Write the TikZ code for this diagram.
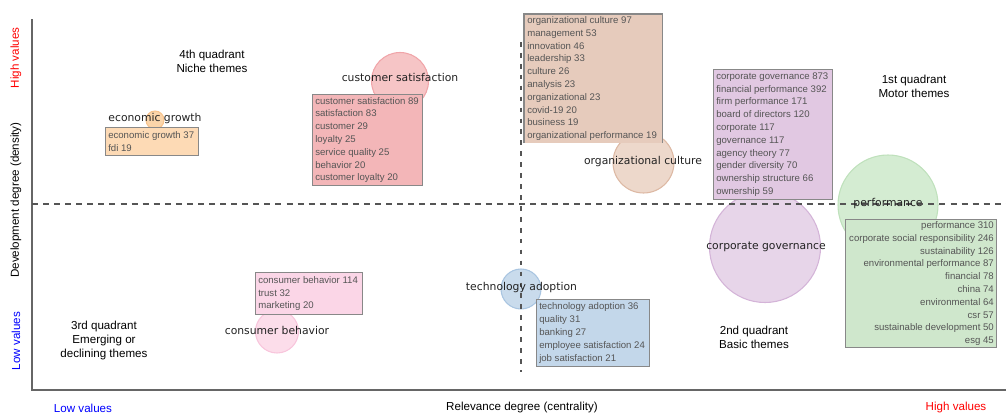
\documentclass[tikz,border=0pt]{standalone}
\usepackage{fontspec}
\setmainfont{Liberation Sans}
\newfontfamily\dvfont{DejaVu Sans}
\definecolor{axisgray}{HTML}{666666}
\definecolor{dashgray}{HTML}{555555}
\definecolor{boxline}{HTML}{888888}
\definecolor{boxtext}{HTML}{555555}
\definecolor{lblcol}{HTML}{222222}
\definecolor{ecoBox}{HTML}{FDDAB5}\definecolor{ecoC}{HTML}{FBD5AA}\definecolor{ecoB}{HTML}{F8C48E}
\definecolor{cusBox}{HTML}{F3B6B8}\definecolor{cusC}{HTML}{F6C5C6}\definecolor{cusB}{HTML}{F0A5A9}
\definecolor{orgBox}{HTML}{E6CBBC}\definecolor{orgC}{HTML}{EDD8CB}\definecolor{orgB}{HTML}{DDB9A4}
\definecolor{corBox}{HTML}{E1C8E2}\definecolor{corC}{HTML}{E7D5E9}\definecolor{corB}{HTML}{D4B4D8}
\definecolor{perBox}{HTML}{CFE7CC}\definecolor{perC}{HTML}{D4ECD2}\definecolor{perB}{HTML}{BFE1BC}
\definecolor{conBox}{HTML}{FBD6E7}\definecolor{conC}{HTML}{FCDDEA}\definecolor{conB}{HTML}{F8C5DC}
\definecolor{tecBox}{HTML}{C3D7EA}\definecolor{tecC}{HTML}{C9DBEC}\definecolor{tecB}{HTML}{A9C5E1}
\begin{document}
\begin{tikzpicture}[x=0.75pt,y=-0.75pt,
  bubble/.style={circle,inner sep=0pt,line width=0.8pt},
  blabel/.style={font=\dvfont\fontsize{8.1}{9.5}\selectfont,text=lblcol,inner sep=0pt},
  boxrect/.style={rectangle,inner sep=0pt,anchor=north west,draw=boxline,line width=0.8pt},
  boxtxt/.style={font=\fontsize{7.2}{9.6}\selectfont,text=boxtext,inner sep=0pt,align=left,anchor=west},
  quad/.style={font=\fontsize{8.7}{10.5}\selectfont,align=center,inner sep=0pt},
  axtitle/.style={font=\fontsize{8.7}{10.5}\selectfont,inner sep=0pt},
  axline/.style={draw=axisgray,line width=0.9pt},
  hdash/.style={draw=dashgray,line width=1pt,dash pattern=on 4.5pt off 3.8pt},
  vdash/.style={draw=dashgray,line width=1pt,dash pattern=on 3.5pt off 4.7pt}]
\useasboundingbox (0,0) rectangle (1006,414);

% axes
\coordinate (ytop) at (32,19);
\coordinate (origin) at (32,390);
\coordinate (xend) at (1006,390);
\draw[axline] (ytop) -- (origin) -- (xend);

% bubbles
\node[bubble,fill=ecoC,draw=ecoB,minimum size=13.5pt] (ecoCirc) at (155,120) {};
\node[bubble,fill=cusC,draw=cusB,minimum size=42.75pt] (cusCirc) at (400,81) {};
\node[bubble,fill=orgC,draw=orgB,minimum size=45.75pt] (orgCirc) at (643.5,162.5) {};
\node[bubble,fill=corC,draw=corB,minimum size=83.25pt] (corCirc) at (765,247) {};
\node[bubble,fill=perC,draw=perB,minimum size=75pt] (perCirc) at (888,205) {};
\node[bubble,fill=tecC,draw=tecB,minimum size=30pt] (tecCirc) at (521,289) {};
\node[bubble,fill=conC,draw=conB,minimum size=32.25pt] (conCirc) at (277,331.5) {};

% dashed quadrant lines
\coordinate (hL) at (32,204);
\coordinate (hR) at (1006,204);
\coordinate (vT) at (521,42);
\coordinate (vB) at (521,372);
\draw[hdash] (hL) -- (hR);
\draw[vdash] (vT) -- (vB);

% boxes
\node[boxrect,fill=ecoBox,minimum width=69.75pt,minimum height=21pt] (ecoBx) at (105,127) {};
\node[boxtxt] (ecoTx) at ([xshift=2.25pt]ecoBx.west) {economic growth 37\\fdi 19};

\node[boxrect,fill=cusBox,minimum width=82.5pt,minimum height=68.25pt] (cusBx) at (312,94) {};
\node[boxtxt] (cusTx) at ([xshift=2.25pt]cusBx.west) {customer satisfaction 89\\satisfaction 83\\customer 29\\loyalty 25\\service quality 25\\behavior 20\\customer loyalty 20};

\node[boxrect,draw=none,fill=orgBox,minimum width=102.75pt,minimum height=96pt] (orgBx) at (524,14) {};
\draw[draw=boxline,line width=0.8pt] (orgBx.south west) -- (orgBx.north west) -- (orgBx.north east) -- (orgBx.south east);
\node[boxtxt] (orgTx) at ([xshift=2.25pt]orgBx.west) {organizational culture 97\\management 53\\innovation 46\\leadership 33\\culture 26\\analysis 23\\organizational 23\\covid-19 20\\business 19\\organizational performance 19};

\node[boxrect,fill=corBox,minimum width=89.25pt,minimum height=97.5pt] (corBx) at (713,69) {};
\node[boxtxt] (corTx) at ([xshift=2.25pt]corBx.west) {corporate governance 873\\financial performance 392\\firm performance 171\\board of directors 120\\corporate 117\\governance 117\\agency theory 77\\gender diversity 70\\ownership structure 66\\ownership 59};

\node[boxrect,fill=perBox,minimum width=113.25pt,minimum height=96pt] (perBx) at (845,219) {};
\node[boxtxt,align=right,anchor=east] (perTx) at ([xshift=-2.25pt]perBx.east) {performance 310\\corporate social responsibility 246\\sustainability 126\\environmental performance 87\\financial 78\\china 74\\environmental 64\\csr 57\\sustainable development 50\\esg 45};

\node[boxrect,fill=conBox,minimum width=80.25pt,minimum height=31.5pt] (conBx) at (255,272) {};
\node[boxtxt] (conTx) at ([xshift=2.25pt]conBx.west) {consumer behavior 114\\trust 32\\marketing 20};

\node[boxrect,fill=tecBox,minimum width=84.75pt,minimum height=50.25pt] (tecBx) at (536,299) {};
\node[boxtxt] (tecTx) at ([xshift=2.25pt]tecBx.west) {technology adoption 36\\quality 31\\banking 27\\employee satisfaction 24\\job satisfaction 21};

% bubble labels
\node[blabel] (ecoLb) at (155,119) {economic growth};
\node[blabel] (cusLb) at (400,77) {customer satisfaction};
\node[blabel] (orgLb) at (643,162) {organizational culture};
\node[blabel] (corLb) at (766,247) {corporate governance};
\node[blabel] (perLb) at (888,204) {performance};
\node[blabel] (tecLb) at (521.5,288) {technology adoption};
\node[blabel] (conLb) at (277,330) {consumer behavior};

% quadrant labels
\node[quad] (q4) at (212,61) {4th quadrant\\Niche themes};
\node[quad] (q1) at (914,86.5) {1st quadrant\\Motor themes};
\node[quad] (q3) at (104,340.5) {3rd quadrant\\Emerging or\\declining themes};
\node[quad] (q2) at (754,337) {2nd quadrant\\Basic themes};

% axis titles
\node[axtitle,rotate=90,text=red] (yHigh) at (16,58) {High values};
\node[axtitle,rotate=90] (yTitle) at (16,200) {Development degree (density)};
\node[axtitle,rotate=90,text=blue] (yLow) at (16,341) {Low values};
\node[axtitle,text=blue] (xLow) at (83,408) {Low values};
\node[axtitle] (xTitle) at (522,407) {Relevance degree (centrality)};
\node[axtitle,text=red] (xHigh) at (956,407) {High values};
\end{tikzpicture}
\end{document}
